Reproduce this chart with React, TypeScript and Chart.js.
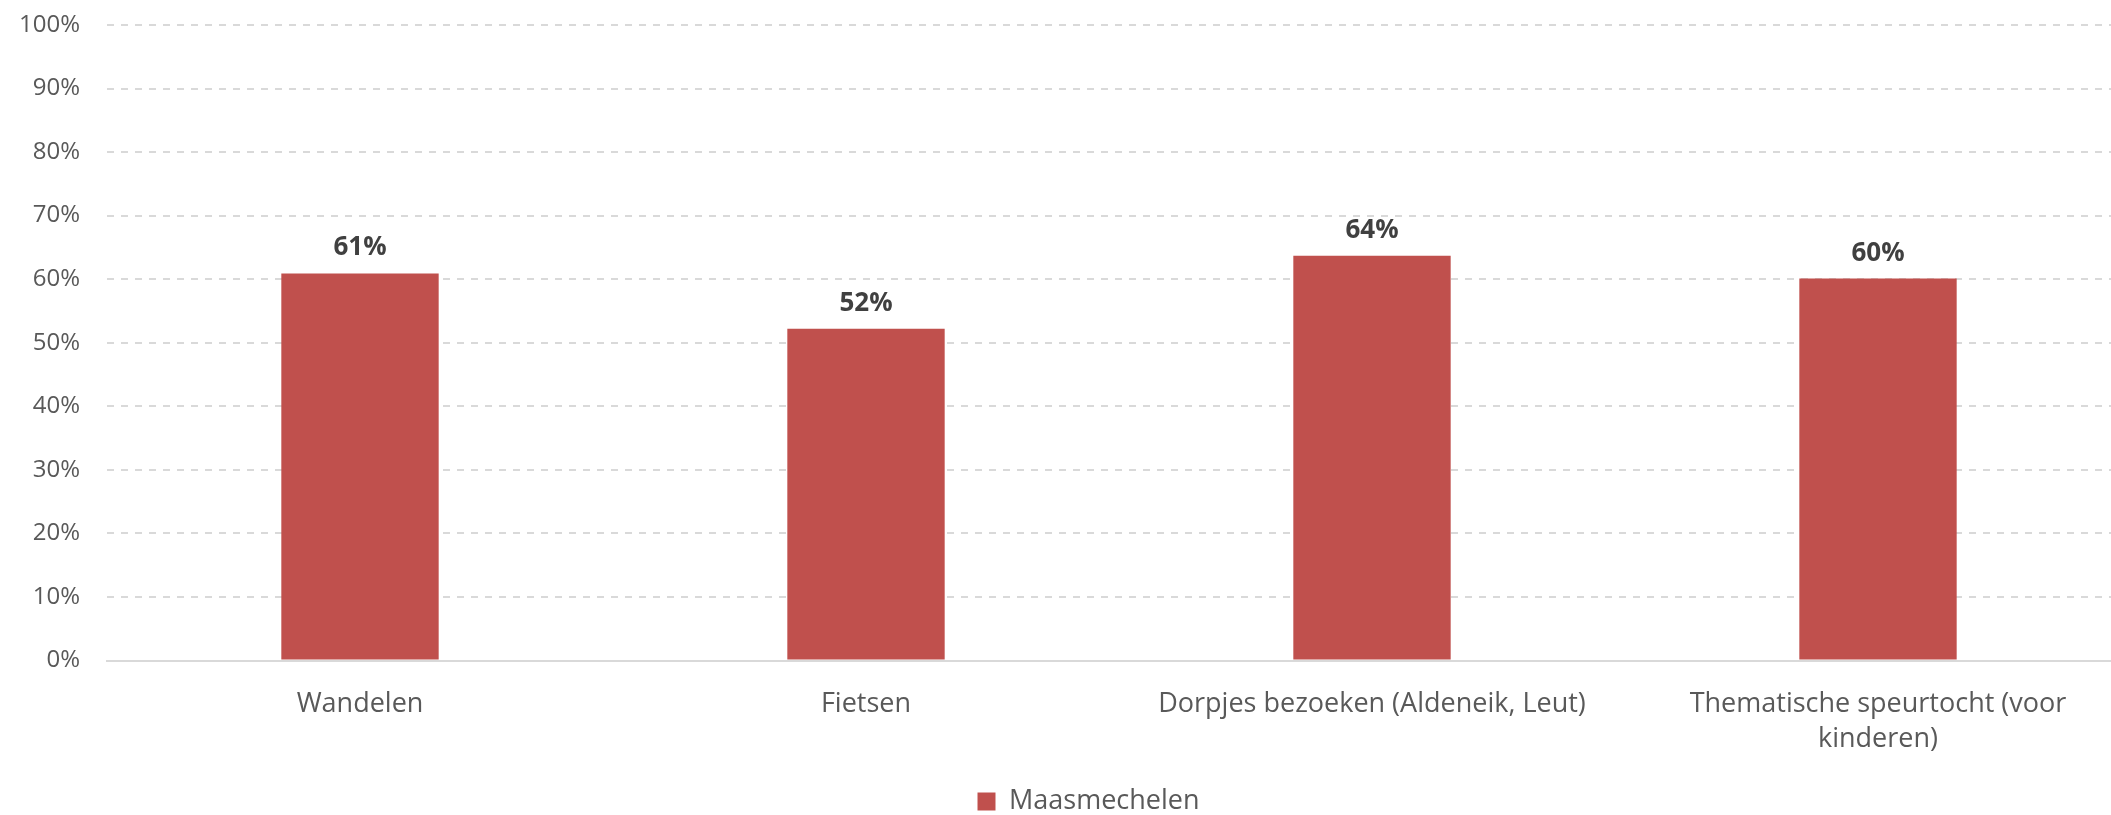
import React, { useEffect, useRef } from "react";
import { Chart, registerables } from "chart.js";

Chart.register(...registerables);

const categories: (string | string[])[] = [
  "Wandelen",
  "Fietsen",
  "Dorpjes bezoeken (Aldeneik, Leut)",
  ["Thematische speurtocht (voor", "kinderen)"],
];
const seriesName = "Maasmechelen";
const seriesValues = [60.9, 52.2, 63.7, 60.1];
const yTicksMin = 0;
const yTicksMax = 100;
const yTickStep = 10;

const FONT = "'Open Sans', 'DejaVu Sans', sans-serif";
const LEGEND_SHIFT = 23;

const dataLabelPlugin = {
  id: "dataLabels",
  afterLayout(chart: any) {
    if (chart.legend) {
      chart.legend.left += LEGEND_SHIFT;
      chart.legend.right += LEGEND_SHIFT;
    }
  },
  afterDatasetsDraw(chart: any) {
    const ctx = chart.ctx;
    ctx.save();
    ctx.font = `bold 26px ${FONT}`;
    ctx.fillStyle = "#404040";
    ctx.textAlign = "center";
    ctx.textBaseline = "alphabetic";
    chart.data.datasets.forEach((ds: any, di: number) => {
      const meta = chart.getDatasetMeta(di);
      meta.data.forEach((bar: any, i: number) => {
        const v = ds.data[i];
        ctx.fillText(`${Math.round(v)}%`, bar.x, bar.y - 18);
      });
    });
    ctx.restore();
  },
};

export default function App() {
  const ref = useRef<HTMLCanvasElement | null>(null);

  useEffect(() => {
    document.body.style.margin = "0";
    document.body.style.overflow = "hidden";
    if (!ref.current) return;
    const chart = new Chart(ref.current, {
      type: "bar",
      data: {
        labels: categories,
        datasets: [
          {
            label: seriesName,
            data: seriesValues,
            backgroundColor: "#C0504D",
            borderWidth: 0,
            barPercentage: 0.311,
            categoryPercentage: 1,
          },
        ],
      },
      options: {
        animation: false,
        responsive: true,
        maintainAspectRatio: false,
        layout: { padding: { top: 25, right: 0, bottom: 0, left: 0 } },
        plugins: {
          legend: {
            position: "bottom",
            maxHeight: 30,
            labels: {
              font: { family: FONT, size: 27 },
              color: "#595959",
              boxWidth: 18,
              boxHeight: 18,
              padding: 3,
            },
          },
          tooltip: { enabled: false },
        },
        scales: {
          x: {
            afterFit: (s: any) => {
              s.height = 124.5;
              s.paddingLeft = 0;
              s.paddingRight = 0;
            },
            grid: { display: false, drawTicks: false },
            border: { display: true, color: "#D9D9D9", width: 2 },
            ticks: {
              font: { family: FONT, size: 27, lineHeight: 1.3 },
              color: "#595959",
              padding: 26,
              maxRotation: 0,
              autoSkip: false,
            },
          },
          y: {
            min: yTicksMin,
            max: yTicksMax,
            afterFit: (s: any) => {
              s.width = 107;
              s.paddingTop = 0;
              s.paddingBottom = 0;
            },
            grid: {
              color: "#D9D9D9",
              lineWidth: 2,
              drawTicks: false,
            },
            border: { display: false, dash: [7, 7] },
            ticks: {
              stepSize: yTickStep,
              font: { family: FONT, size: 24 },
              color: "#595959",
              padding: 27,
              callback: (v: any) => `${v}%`,
            },
          },
        },
      },
      plugins: [dataLabelPlugin],
    });
    return () => chart.destroy();
  }, []);

  return (
    <div style={{ position: "absolute", left: 0, top: 0, width: 2111, height: 815, overflow: "hidden" }}>
      <div style={{ position: "relative", width: 2131, height: 815 }}>
        <canvas ref={ref} />
      </div>
    </div>
  );
}
